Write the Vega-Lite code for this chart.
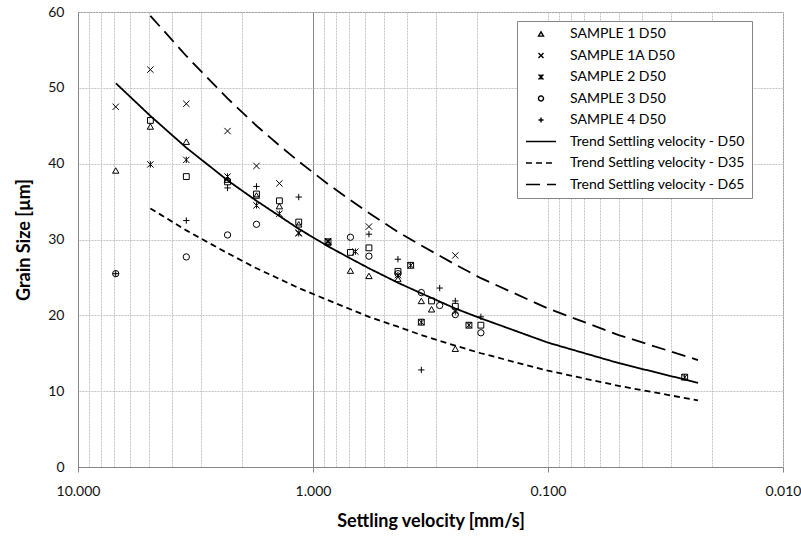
{
  "$schema": "https://vega.github.io/schema/vega-lite/v6.json",
  "width": 705,
  "height": 455,
  "autosize": {"type": "none"},
  "padding": {"left": 78, "top": 12, "right": 18, "bottom": 69},
  "background": "white",
  "config": {
    "font": "Lato",
    "view": {"stroke": "#868686", "strokeWidth": 1},
    "axis": {"labelFont": "Lato", "labelFontSize": 14, "labelColor": "#111", "titleFont": "Lato", "titleFontSize": 18, "titleFontWeight": "bold", "titleColor": "#000", "domainColor": "#868686", "tickColor": "#868686"}
  },
  "datasets": {
    "pts": [
      {"v": 6.91, "d": 47.5, "s": "SAMPLE 1A D50"},
      {"v": 6.91, "d": 39.1, "s": "SAMPLE 1 D50"},
      {"v": 6.91, "d": 25.5, "s": "SAMPLE 3 D50"},
      {"v": 6.91, "d": 25.5, "s": "SAMPLE 4 D50"},
      {"v": 4.92, "d": 52.4, "s": "SAMPLE 1A D50"},
      {"v": 4.92, "d": 44.9, "s": "SAMPLE 1 D50"},
      {"v": 4.92, "d": 39.9, "s": "SAMPLE 2 D50"},
      {"v": 3.46, "d": 47.9, "s": "SAMPLE 1A D50"},
      {"v": 3.46, "d": 42.9, "s": "SAMPLE 1 D50"},
      {"v": 3.46, "d": 40.5, "s": "SAMPLE 2 D50"},
      {"v": 3.46, "d": 32.5, "s": "SAMPLE 4 D50"},
      {"v": 3.46, "d": 27.7, "s": "SAMPLE 3 D50"},
      {"v": 2.31, "d": 44.3, "s": "SAMPLE 1A D50"},
      {"v": 2.31, "d": 38.3, "s": "SAMPLE 2 D50"},
      {"v": 2.31, "d": 37.9, "s": "SAMPLE 1 D50"},
      {"v": 2.31, "d": 36.8, "s": "SAMPLE 4 D50"},
      {"v": 2.31, "d": 30.6, "s": "SAMPLE 3 D50"},
      {"v": 1.74, "d": 39.7, "s": "SAMPLE 1A D50"},
      {"v": 1.74, "d": 37.0, "s": "SAMPLE 4 D50"},
      {"v": 1.74, "d": 35.8, "s": "SAMPLE 1 D50"},
      {"v": 1.74, "d": 34.5, "s": "SAMPLE 2 D50"},
      {"v": 1.74, "d": 32.0, "s": "SAMPLE 3 D50"},
      {"v": 1.39, "d": 37.4, "s": "SAMPLE 1A D50"},
      {"v": 1.39, "d": 34.4, "s": "SAMPLE 1 D50"},
      {"v": 1.39, "d": 33.4, "s": "SAMPLE 2 D50"},
      {"v": 1.15, "d": 35.6, "s": "SAMPLE 4 D50"},
      {"v": 1.15, "d": 32.0, "s": "SAMPLE 1 D50"},
      {"v": 1.15, "d": 30.8, "s": "SAMPLE 2 D50"},
      {"v": 1.15, "d": 30.9, "s": "SAMPLE 1A D50"},
      {"v": 0.863, "d": 29.6, "s": "SAMPLE 1 D50"},
      {"v": 0.863, "d": 29.8, "s": "SAMPLE 1A D50"},
      {"v": 0.863, "d": 29.7, "s": "SAMPLE 2 D50"},
      {"v": 0.693, "d": 30.3, "s": "SAMPLE 3 D50"},
      {"v": 0.693, "d": 25.9, "s": "SAMPLE 1 D50"},
      {"v": 0.66, "d": 28.4, "s": "SAMPLE 2 D50"},
      {"v": 0.578, "d": 31.7, "s": "SAMPLE 1A D50"},
      {"v": 0.578, "d": 30.7, "s": "SAMPLE 4 D50"},
      {"v": 0.578, "d": 27.8, "s": "SAMPLE 3 D50"},
      {"v": 0.578, "d": 25.2, "s": "SAMPLE 1 D50"},
      {"v": 0.435, "d": 27.4, "s": "SAMPLE 4 D50"},
      {"v": 0.435, "d": 25.5, "s": "SAMPLE 3 D50"},
      {"v": 0.435, "d": 25.3, "s": "SAMPLE 2 D50"},
      {"v": 0.435, "d": 24.8, "s": "SAMPLE 1 D50"},
      {"v": 0.384, "d": 26.6, "s": "SAMPLE 2 D50"},
      {"v": 0.346, "d": 23.0, "s": "SAMPLE 3 D50"},
      {"v": 0.346, "d": 21.9, "s": "SAMPLE 1 D50"},
      {"v": 0.346, "d": 19.1, "s": "SAMPLE 2 D50"},
      {"v": 0.346, "d": 12.8, "s": "SAMPLE 4 D50"},
      {"v": 0.313, "d": 20.8, "s": "SAMPLE 1 D50"},
      {"v": 0.289, "d": 23.6, "s": "SAMPLE 4 D50"},
      {"v": 0.289, "d": 21.3, "s": "SAMPLE 3 D50"},
      {"v": 0.248, "d": 27.9, "s": "SAMPLE 1A D50"},
      {"v": 0.248, "d": 21.9, "s": "SAMPLE 4 D50"},
      {"v": 0.248, "d": 20.5, "s": "SAMPLE 2 D50"},
      {"v": 0.248, "d": 20.1, "s": "SAMPLE 3 D50"},
      {"v": 0.248, "d": 15.6, "s": "SAMPLE 1 D50"},
      {"v": 0.217, "d": 18.7, "s": "SAMPLE 2 D50"},
      {"v": 0.193, "d": 19.8, "s": "SAMPLE 4 D50"},
      {"v": 0.193, "d": 17.7, "s": "SAMPLE 3 D50"},
      {"v": 0.0262, "d": 11.85, "s": "SAMPLE 2 D50"}
    ],
    "sq": [
      {"v": 4.92, "d": 45.7},
      {"v": 3.46, "d": 38.3},
      {"v": 2.31, "d": 37.6},
      {"v": 1.74, "d": 36.0},
      {"v": 1.39, "d": 35.1},
      {"v": 1.15, "d": 32.3},
      {"v": 0.863, "d": 29.7},
      {"v": 0.693, "d": 28.3},
      {"v": 0.578, "d": 28.9},
      {"v": 0.435, "d": 25.8},
      {"v": 0.384, "d": 26.6},
      {"v": 0.346, "d": 19.1},
      {"v": 0.313, "d": 21.9},
      {"v": 0.248, "d": 21.2},
      {"v": 0.217, "d": 18.7},
      {"v": 0.193, "d": 18.7},
      {"v": 0.0262, "d": 11.85}
    ],
    "trend": [
      {"v": 6.9, "d": 50.6, "s": "Trend Settling velocity - D50"},
      {"v": 4.92, "d": 46.3, "s": "Trend Settling velocity - D50"},
      {"v": 3.46, "d": 42.1, "s": "Trend Settling velocity - D50"},
      {"v": 2.31, "d": 37.8, "s": "Trend Settling velocity - D50"},
      {"v": 1.74, "d": 35.1, "s": "Trend Settling velocity - D50"},
      {"v": 1.39, "d": 33.1, "s": "Trend Settling velocity - D50"},
      {"v": 1.15, "d": 31.4, "s": "Trend Settling velocity - D50"},
      {"v": 0.863, "d": 29.1, "s": "Trend Settling velocity - D50"},
      {"v": 0.693, "d": 27.5, "s": "Trend Settling velocity - D50"},
      {"v": 0.578, "d": 26.2, "s": "Trend Settling velocity - D50"},
      {"v": 0.435, "d": 24.3, "s": "Trend Settling velocity - D50"},
      {"v": 0.346, "d": 22.9, "s": "Trend Settling velocity - D50"},
      {"v": 0.248, "d": 20.9, "s": "Trend Settling velocity - D50"},
      {"v": 0.193, "d": 19.6, "s": "Trend Settling velocity - D50"},
      {"v": 0.1, "d": 16.4, "s": "Trend Settling velocity - D50"},
      {"v": 0.05, "d": 13.7, "s": "Trend Settling velocity - D50"},
      {"v": 0.023, "d": 11.1, "s": "Trend Settling velocity - D50"},
      {"v": 4.92, "d": 34.1, "s": "Trend Settling velocity - D35"},
      {"v": 3.46, "d": 31.2, "s": "Trend Settling velocity - D35"},
      {"v": 2.31, "d": 28.2, "s": "Trend Settling velocity - D35"},
      {"v": 1.74, "d": 26.2, "s": "Trend Settling velocity - D35"},
      {"v": 1.39, "d": 24.8, "s": "Trend Settling velocity - D35"},
      {"v": 1.15, "d": 23.6, "s": "Trend Settling velocity - D35"},
      {"v": 0.863, "d": 22.0, "s": "Trend Settling velocity - D35"},
      {"v": 0.693, "d": 20.8, "s": "Trend Settling velocity - D35"},
      {"v": 0.578, "d": 19.8, "s": "Trend Settling velocity - D35"},
      {"v": 0.435, "d": 18.5, "s": "Trend Settling velocity - D35"},
      {"v": 0.346, "d": 17.4, "s": "Trend Settling velocity - D35"},
      {"v": 0.248, "d": 16.0, "s": "Trend Settling velocity - D35"},
      {"v": 0.193, "d": 15.0, "s": "Trend Settling velocity - D35"},
      {"v": 0.1, "d": 12.7, "s": "Trend Settling velocity - D35"},
      {"v": 0.05, "d": 10.7, "s": "Trend Settling velocity - D35"},
      {"v": 0.023, "d": 8.78, "s": "Trend Settling velocity - D35"},
      {"v": 4.92, "d": 59.5, "s": "Trend Settling velocity - D65"},
      {"v": 3.46, "d": 54.2, "s": "Trend Settling velocity - D65"},
      {"v": 2.31, "d": 48.6, "s": "Trend Settling velocity - D65"},
      {"v": 1.74, "d": 45.0, "s": "Trend Settling velocity - D65"},
      {"v": 1.39, "d": 42.4, "s": "Trend Settling velocity - D65"},
      {"v": 1.15, "d": 40.3, "s": "Trend Settling velocity - D65"},
      {"v": 0.863, "d": 37.3, "s": "Trend Settling velocity - D65"},
      {"v": 0.693, "d": 35.2, "s": "Trend Settling velocity - D65"},
      {"v": 0.578, "d": 33.5, "s": "Trend Settling velocity - D65"},
      {"v": 0.435, "d": 31.0, "s": "Trend Settling velocity - D65"},
      {"v": 0.346, "d": 29.2, "s": "Trend Settling velocity - D65"},
      {"v": 0.248, "d": 26.7, "s": "Trend Settling velocity - D65"},
      {"v": 0.193, "d": 24.9, "s": "Trend Settling velocity - D65"},
      {"v": 0.1, "d": 20.9, "s": "Trend Settling velocity - D65"},
      {"v": 0.05, "d": 17.4, "s": "Trend Settling velocity - D65"},
      {"v": 0.023, "d": 14.1, "s": "Trend Settling velocity - D65"}
    ]
  },
  "encoding": {
    "x": {
      "field": "v", "type": "quantitative",
      "scale": {"type": "log", "domain": [0.01, 10], "reverse": true, "nice": false},
      "axis": {
        "title": "Settling velocity [mm/s]",
        "values": [0.01, 0.02, 0.03, 0.04, 0.05, 0.06, 0.07, 0.08, 0.09, 0.1, 0.2, 0.3, 0.4, 0.5, 0.6, 0.7, 0.8, 0.9, 1, 2, 3, 4, 5, 6, 7, 8, 9, 10],
        "labelExpr": "indexof([10, 1, 0.1, 0.01], datum.value) >= 0 ? format(datum.value, '.3f') : ''",
        "labelOverlap": false,
        "labelFlush": false,
        "labelPadding": 12,
        "tickSize": 5,
        "tickOpacity": {"condition": {"test": "indexof([10, 1, 0.1, 0.01], datum.value) >= 0", "value": 1}, "value": 0},
        "grid": true,
        "gridColor": {"condition": {"test": "datum.value == 1", "value": "#868686"}, "value": "#c4c4c4"},
        "gridDash": {"condition": {"test": "datum.value == 1", "value": []}, "value": [2, 1]},
        "gridWidth": 1,
        "titlePadding": 14
      }
    },
    "y": {
      "field": "d", "type": "quantitative",
      "scale": {"domain": [0, 60], "nice": false},
      "axis": {
        "title": "Grain Size [µm]",
        "values": [0, 10, 20, 30, 40, 50, 60],
        "ticks": false,
        "labelPadding": 14,
        "grid": true,
        "gridColor": "#c4c4c4",
        "gridDash": [2, 1],
        "titlePadding": 14
      }
    }
  },
  "layer": [
    {
      "data": {"name": "trend"},
      "mark": {"type": "line", "color": "#000", "strokeWidth": 1.8},
      "encoding": {
        "strokeDash": {
          "field": "s", "type": "nominal",
          "scale": {
            "domain": ["SAMPLE 1 D50", "SAMPLE 1A D50", "SAMPLE 2 D50", "SAMPLE 3 D50", "SAMPLE 4 D50", "Trend Settling velocity - D50", "Trend Settling velocity - D35", "Trend Settling velocity - D65"],
            "range": [[1, 0], [1, 0], [1, 0], [1, 0], [1, 0], [1, 0], [6, 4], [14, 7]]
          },
          "legend": {
            "title": null, "orient": "none", "legendX": 439, "legendY": 9,
            "padding": 6, "strokeColor": "#868686", "fillColor": "white",
            "labelFont": "Lato", "labelFontSize": 14, "labelColor": "#000", "labelLimit": 400,
            "symbolSize": 25, "symbolOffset": 11, "labelOffset": 22, "rowPadding": 7.5,
            "symbolStrokeWidth": 1.4, "symbolStrokeColor": "#000", "symbolFillColor": "transparent"
          }
        }
      }
    },
    {
      "data": {"name": "sq"},
      "mark": {"type": "point", "shape": "square", "filled": false, "color": "#000", "opacity": 1, "size": 34, "strokeWidth": 1}
    },
    {
      "data": {"name": "pts"},
      "mark": {"type": "point", "filled": false, "color": "#000", "opacity": 1, "size": 40, "strokeWidth": 1},
      "encoding": {
        "shape": {
          "field": "s", "type": "nominal",
          "scale": {
            "domain": ["SAMPLE 1 D50", "SAMPLE 1A D50", "SAMPLE 2 D50", "SAMPLE 3 D50", "SAMPLE 4 D50", "Trend Settling velocity - D50", "Trend Settling velocity - D35", "Trend Settling velocity - D65"],
            "range": ["triangle-up", "M-1,-1L1,1M-1,1L1,-1", "M-1,-1L1,1M-1,1L1,-1M0,-1L0,1", "circle", "M-1,0L1,0M0,-1L0,1", "M-6,0L6,0.02", "M-6,0L6,0.02", "M-6,0L6,0.02"]
          },
          "legend": {
            "title": null, "orient": "none", "legendX": 439, "legendY": 9,
            "padding": 6, "strokeColor": "#868686", "fillColor": "white",
            "labelFont": "Lato", "labelFontSize": 14, "labelColor": "#000", "labelLimit": 400,
            "symbolSize": 25, "symbolOffset": 11, "labelOffset": 22, "rowPadding": 7.5,
            "symbolStrokeWidth": 1.4, "symbolStrokeColor": "#000", "symbolFillColor": "transparent"
          }
        }
      }
    }
  ]
}
